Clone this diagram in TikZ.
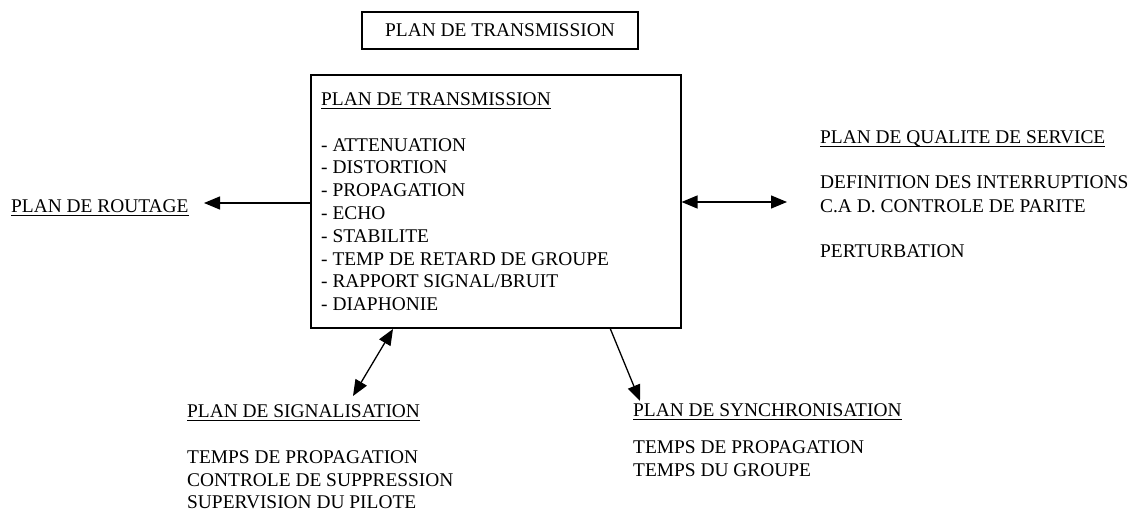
\documentclass[tikz,border=0pt]{standalone}
\usepackage{fontspec}
\setmainfont{Liberation Serif}
\usetikzlibrary{arrows.meta}
% underlined heading text
\newcommand\ulhead[1]{\setbox0\hbox{#1}\rlap{\rule[-3.6pt]{\wd0}{1.1pt}}\box0}
\begin{document}
\begin{tikzpicture}[x=1pt,y=-1pt,
  txt/.style={inner sep=0pt,anchor=base west,font=\fontsize{19.4}{23}\selectfont},
  frame/.style={draw,line width=1.1pt,inner sep=0pt},
  conn/.style={line width=1.3pt,-{Triangle[length=16pt,width=13pt]}},
  dconn/.style={line width=1.3pt,{Triangle[length=16pt,width=13pt]}-{Triangle[length=16pt,width=13pt]}}]
\useasboundingbox (0,0) rectangle (1133,511);

% title box
\node[frame,minimum width=276,minimum height=37,font=\fontsize{19.4}{23}\selectfont] (title) at (500,30.5) {PLAN DE TRANSMISSION};

% central box with its list
\node[frame,minimum width=370,minimum height=253] (main) at (496,201.5) {};
\node[txt] (mh) at (321,105) {\ulhead{PLAN DE TRANSMISSION}};
\foreach \t [count=\i] in {ATTENUATION,DISTORTION,PROPAGATION,ECHO,STABILITE,TEMP DE RETARD DE GROUPE,RAPPORT SIGNAL/BRUIT,DIAPHONIE}
  \node[txt] (m\i) at (321,{151+22.8*(\i-1)}) {- \t};

% routing plane
\node[txt] (rt) at (11,212) {\ulhead{PLAN DE ROUTAGE}};
\coordinate (rtip) at (204,203);
\draw[conn] (main.west |- rtip) -- (rtip);

% quality of service plane
\node[txt] (qh) at (820,143) {\ulhead{PLAN DE QUALITE DE SERVICE}};
\node[txt] (q1) at (820,188) {DEFINITION DES INTERRUPTIONS};
\node[txt] (q2) at (820,212) {C.A D. CONTROLE DE PARITE};
\node[txt] (q3) at (820,257) {PERTURBATION};
\coordinate (qtip) at (787,202);
\draw[dconn] (main.east |- qtip) -- (qtip);

% signalling plane
\node[txt] (sh) at (187,417) {\ulhead{PLAN DE SIGNALISATION}};
\node[txt] (s1) at (187,463) {TEMPS DE PROPAGATION};
\node[txt] (s2) at (187,486) {CONTROLE DE SUPPRESSION};
\node[txt] (s3) at (187,508) {SUPERVISION DU PILOTE};
\coordinate (stop) at (393,329);
\coordinate (stip) at (353,396);
\draw[dconn] (stop) -- (stip);

% synchronisation plane
\node[txt] (yh) at (633,416) {\ulhead{PLAN DE SYNCHRONISATION}};
\node[txt] (y1) at (633,453) {TEMPS DE PROPAGATION};
\node[txt] (y2) at (633,476) {TEMPS DU GROUPE};
\coordinate (ytop) at (610,328);
\coordinate (ytip) at (640,401);
\draw[conn] (ytop) -- (ytip);
\end{tikzpicture}
\end{document}
